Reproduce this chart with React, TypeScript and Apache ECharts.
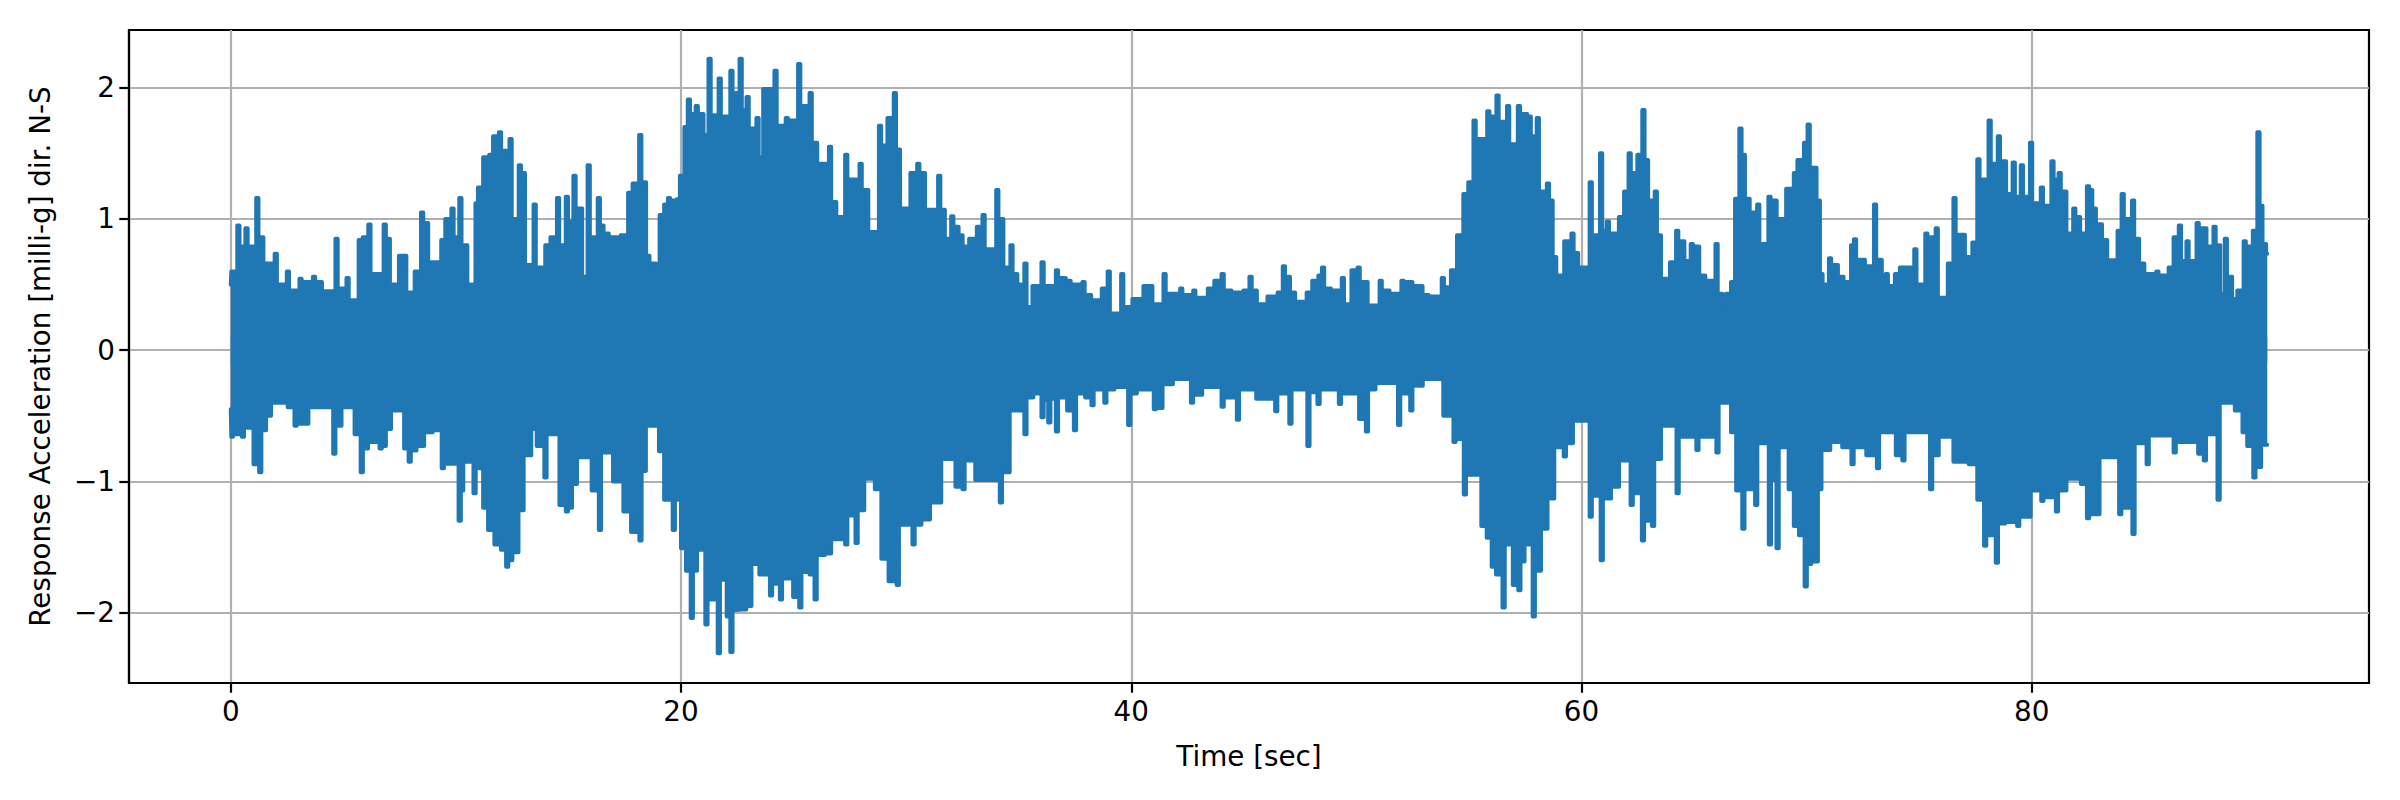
import { useEffect, useRef } from 'react';
import * as echarts from 'echarts';

const xTicks = [0, 20, 40, 60, 80];
const yTicks = [-2, -1, 0, 1, 2];

// upper edge of the trace, [time, milli-g]
const upperPeaks: [number, number][] = [
  [0, 0.5], [0.05, 0.6], [0.2, 0.6], [0.34, 0.95], [0.48, 0.79], [0.7, 0.93], [0.88, 0.79], [1.18, 1.16], [1.4, 0.86], [1.56, 0.66],
  [2.0, 0.735], [2.24, 0.5], [2.54, 0.6], [2.8, 0.455], [3.1, 0.545], [3.33, 0.52], [3.7, 0.56], [4.0, 0.52], [4.24, 0.45], [4.7, 0.85],
  [4.96, 0.47], [5.19, 0.55], [5.48, 0.38], [5.73, 0.84], [5.91, 0.86], [6.16, 0.957], [6.43, 0.58], [6.84, 0.957], [7.02, 0.85], [7.29, 0.5],
  [7.52, 0.72], [7.75, 0.72], [8.0, 0.44], [8.22, 0.6], [8.5, 1.05], [8.72, 0.97], [9.06, 0.67], [9.4, 0.84], [9.58, 1.0], [9.85, 1.08],
  [10.0, 0.86], [10.2, 1.16], [10.46, 0.8], [10.69, 0.5], [10.92, 1.12], [11.03, 1.24], [11.26, 1.47], [11.53, 1.49], [11.7, 1.63], [11.96, 1.66],
  [12.16, 1.52], [12.43, 1.61], [12.57, 1.0], [12.84, 1.41], [13.02, 1.35], [13.18, 0.65], [13.5, 1.11], [13.7, 0.63], [14.02, 0.8], [14.25, 0.86],
  [14.54, 1.16], [14.7, 0.8], [14.93, 1.17], [15.1, 0.98], [15.27, 1.33], [15.56, 1.08], [15.72, 0.56], [15.9, 1.41], [16.13, 0.86], [16.35, 1.16],
  [16.51, 0.95], [16.74, 0.89], [17.0, 0.86], [17.37, 0.875], [17.7, 1.2], [17.9, 1.27], [18.19, 1.64], [18.4, 1.28], [18.55, 0.72], [18.85, 0.66],
  [19.0, 0.48], [19.1, 1.03], [19.3, 1.11], [19.47, 1.16], [19.68, 1.14], [19.86, 1.15], [20.0, 1.33], [20.2, 1.7], [20.35, 1.91], [20.5, 1.8],
  [20.7, 1.86], [20.95, 1.8], [21.09, 1.64], [21.27, 2.22], [21.4, 1.79], [21.72, 2.07], [21.9, 1.78], [22.24, 2.13], [22.42, 1.96], [22.65, 2.22],
  [22.85, 1.83], [22.96, 1.93], [23.2, 1.69], [23.4, 1.77], [23.56, 1.47], [23.7, 1.99], [23.94, 1.99], [24.2, 2.13], [24.44, 1.71], [24.7, 1.77],
  [24.98, 1.75], [25.25, 2.18], [25.49, 1.86], [25.76, 1.96], [26.0, 1.58], [26.28, 1.42], [26.62, 1.55], [26.85, 1.13], [27.12, 1.015], [27.34, 1.49],
  [27.57, 1.3], [27.98, 1.42], [28.27, 1.22], [28.54, 0.9], [28.84, 1.71], [29.02, 1.56], [29.22, 1.77], [29.5, 1.96], [29.68, 1.53], [29.86, 1.08],
  [30.24, 1.35], [30.54, 1.42], [30.79, 1.35], [30.97, 1.07], [31.2, 1.07], [31.47, 1.33], [31.67, 1.07], [31.83, 0.85], [32.05, 1.02], [32.28, 0.94],
  [32.46, 0.875], [32.62, 0.79], [32.85, 0.85], [33.19, 0.94], [33.44, 1.03], [33.64, 0.77], [34.05, 1.22], [34.27, 1.0], [34.43, 0.63], [34.68, 0.8],
  [34.89, 0.58], [35.11, 0.5], [35.3, 0.66], [35.5, 0.33], [35.66, 0.49], [36.06, 0.67], [36.36, 0.49], [36.7, 0.61], [37.04, 0.55], [37.26, 0.53],
  [37.49, 0.5], [37.88, 0.52], [38.17, 0.42], [38.51, 0.38], [38.74, 0.47], [39.0, 0.6], [39.3, 0.28], [39.6, 0.58], [39.87, 0.33], [40.1, 0.39],
  [40.59, 0.49], [40.89, 0.49], [41.1, 0.35], [41.48, 0.58], [41.79, 0.43], [42.22, 0.47], [42.54, 0.42], [42.8, 0.455], [43.15, 0.4], [43.45, 0.47],
  [43.74, 0.53], [44.06, 0.58], [44.4, 0.455], [44.74, 0.44], [45.03, 0.455], [45.3, 0.56], [45.53, 0.455], [45.92, 0.35], [46.1, 0.41], [46.55, 0.44],
  [46.78, 0.64], [47.0, 0.56], [47.23, 0.44], [47.57, 0.37], [47.84, 0.44], [48.09, 0.53], [48.36, 0.57], [48.52, 0.63], [48.82, 0.47], [49.15, 0.455],
  [49.4, 0.55], [49.61, 0.35], [49.83, 0.61], [50.1, 0.63], [50.45, 0.52], [50.74, 0.34], [51.08, 0.53], [51.42, 0.455], [51.76, 0.43], [52.05, 0.53],
  [52.44, 0.52], [52.89, 0.49], [53.16, 0.42], [53.53, 0.41], [53.84, 0.55], [54.03, 0.48], [54.25, 0.61], [54.52, 0.875], [54.8, 1.19], [55.02, 1.28],
  [55.25, 1.75], [55.5, 1.61], [55.86, 1.82], [56.02, 1.78], [56.27, 1.94], [56.52, 1.74], [56.74, 1.86], [56.97, 1.57], [57.22, 1.86], [57.54, 1.8],
  [57.7, 1.78], [57.88, 1.63], [58.06, 1.77], [58.22, 1.21], [58.51, 1.27], [58.67, 1.14], [58.83, 0.71], [59.05, 0.57], [59.28, 0.83], [59.6, 0.89],
  [59.8, 0.74], [60.03, 0.63], [60.41, 1.28], [60.64, 0.875], [60.87, 1.5], [60.99, 0.91], [61.17, 0.98], [61.44, 0.89], [61.71, 1.015], [61.94, 1.21],
  [62.14, 1.5], [62.35, 1.35], [62.53, 1.49], [62.75, 1.83], [62.91, 1.45], [63.09, 1.14], [63.3, 1.21], [63.48, 0.875], [63.7, 0.545], [63.98, 0.67],
  [64.25, 0.91], [64.52, 0.83], [64.72, 0.68], [64.9, 0.81], [65.18, 0.79], [65.45, 0.57], [65.74, 0.53], [66.0, 0.81], [66.2, 0.43], [66.31, 0.32],
  [66.47, 0.43], [66.69, 0.52], [66.87, 1.155], [67.06, 1.69], [67.21, 1.49], [67.42, 1.155], [67.6, 1.05], [67.85, 1.11], [68.08, 0.81], [68.35, 1.17],
  [68.62, 1.14], [68.87, 1.0], [69.14, 1.23], [69.48, 1.35], [69.64, 1.45], [69.93, 1.58], [70.09, 1.72], [70.39, 1.39], [70.54, 1.14], [70.66, 0.58],
  [70.84, 0.5], [71.04, 0.7], [71.34, 0.65], [71.59, 0.56], [71.79, 0.52], [72.02, 0.8], [72.15, 0.845], [72.43, 0.69], [72.54, 0.69], [72.83, 0.64],
  [73.04, 1.11], [73.29, 0.69], [73.44, 0.34], [73.56, 0.58], [73.74, 0.49], [73.97, 0.58], [74.19, 0.63], [74.51, 0.63], [74.83, 0.77], [75.03, 0.5],
  [75.32, 0.89], [75.55, 0.86], [75.78, 0.93], [75.98, 0.4], [76.32, 0.66], [76.57, 1.16], [76.8, 0.88], [76.98, 0.88], [77.23, 0.71], [77.41, 0.82],
  [77.63, 1.455], [77.79, 1.3], [78.13, 1.75], [78.31, 1.42], [78.54, 1.63], [78.81, 1.44], [78.99, 1.19], [79.2, 1.43], [79.33, 1.17], [79.56, 1.41],
  [79.72, 1.17], [79.97, 1.58], [80.19, 1.12], [80.45, 1.24], [80.65, 1.1], [80.92, 1.44], [81.08, 1.3], [81.24, 1.35], [81.49, 1.21], [81.71, 0.89],
  [81.89, 1.08], [82.1, 1.015], [82.32, 0.89], [82.5, 1.25], [82.64, 1.22], [82.8, 1.08], [83.07, 0.96], [83.3, 0.84], [83.52, 0.685], [83.86, 0.91],
  [84.04, 1.19], [84.23, 1.0], [84.5, 1.14], [84.72, 0.85], [84.95, 0.66], [85.34, 0.58], [85.58, 0.6], [85.9, 0.57], [86.13, 0.63], [86.35, 0.86],
  [86.58, 0.95], [86.74, 0.68], [86.92, 0.83], [87.15, 0.68], [87.37, 0.97], [87.71, 0.93], [87.87, 0.79], [88.12, 0.94], [88.32, 0.8], [88.48, 0.43],
  [88.62, 0.85], [88.85, 0.56], [89.0, 0.39], [89.18, 0.455], [89.46, 0.83], [89.64, 0.79], [89.87, 0.91], [90.07, 1.66], [90.2, 1.1], [90.36, 0.81],
  [90.46, 0.735],
];

// lower edge of the trace
const lowerPeaks: [number, number][] = [
  [0, -0.45], [0.05, -0.66], [0.34, -0.64], [0.54, -0.66], [0.84, -0.59], [1.06, -0.87], [1.31, -0.93], [1.52, -0.61], [1.74, -0.5], [2.24, -0.4],
  [2.58, -0.435], [2.88, -0.575], [3.15, -0.56], [3.4, -0.56], [4.17, -0.435], [4.6, -0.79], [4.87, -0.575], [5.14, -0.435], [5.55, -0.64], [5.82, -0.93],
  [6.05, -0.75], [6.39, -0.7], [6.66, -0.75], [6.84, -0.73], [7.07, -0.6], [7.36, -0.46], [7.75, -0.75], [7.95, -0.85], [8.2, -0.765], [8.54, -0.73],
  [8.92, -0.625], [9.22, -0.61], [9.42, -0.9], [9.78, -0.865], [10.17, -1.3], [10.28, -1.07], [10.58, -0.85], [10.83, -1.09], [11.14, -0.9], [11.26, -1.2],
  [11.48, -1.37], [11.76, -1.48], [12.05, -1.52], [12.28, -1.65], [12.46, -1.6], [12.73, -1.54], [12.96, -1.22], [13.3, -0.8], [13.48, -0.6], [13.64, -0.73],
  [13.98, -0.97], [14.31, -0.64], [14.65, -1.18], [14.93, -1.23], [15.11, -1.2], [15.33, -1.02], [15.79, -0.815], [16.08, -1.07], [16.4, -1.37], [16.63, -0.78],
  [17.03, -1.0], [17.49, -1.23], [17.83, -1.385], [18.2, -1.45], [18.39, -0.92], [18.73, -0.575], [19.07, -0.77], [19.3, -1.14], [19.68, -1.37], [19.86, -1.14],
  [20.05, -1.51], [20.27, -1.68], [20.48, -2.04], [20.66, -1.68], [20.91, -1.52], [21.13, -2.09], [21.34, -1.9], [21.68, -2.31], [21.81, -1.75], [22.08, -2.03],
  [22.24, -2.3], [22.42, -1.98], [22.85, -1.975], [23.08, -1.95], [23.26, -1.63], [23.53, -1.71], [24.0, -1.87], [24.28, -1.78], [24.44, -1.9], [24.73, -1.74],
  [25.03, -1.88], [25.3, -1.96], [25.53, -1.69], [25.76, -1.71], [25.98, -1.9], [26.35, -1.56], [26.62, -1.55], [26.96, -1.44], [27.34, -1.48], [27.59, -1.26],
  [27.8, -1.47], [28.09, -1.22], [28.32, -0.98], [28.66, -1.06], [28.95, -1.59], [29.27, -1.76], [29.63, -1.79], [29.95, -1.33], [30.33, -1.48], [30.63, -1.33],
  [31.01, -1.29], [31.51, -1.16], [31.94, -0.83], [32.24, -1.04], [32.55, -1.06], [32.85, -0.84], [33.12, -0.99], [33.87, -0.99], [34.21, -1.16], [34.55, -0.93],
  [35.0, -0.46], [35.3, -0.64], [35.6, -0.36], [35.9, -0.33], [36.06, -0.51], [36.2, -0.38], [36.36, -0.55], [36.5, -0.37], [36.7, -0.62], [36.95, -0.36],
  [37.2, -0.46], [37.5, -0.61], [37.7, -0.33], [38.0, -0.36], [38.28, -0.42], [38.6, -0.3], [38.85, -0.4], [39.2, -0.3], [39.5, -0.28], [39.91, -0.57],
  [40.2, -0.33], [40.6, -0.3], [41.05, -0.45], [41.34, -0.44], [41.8, -0.26], [42.2, -0.22], [42.7, -0.4], [43.1, -0.34], [43.5, -0.28], [44.06, -0.43],
  [44.4, -0.36], [44.74, -0.53], [45.1, -0.3], [45.6, -0.37], [46.44, -0.466], [46.8, -0.33], [47.07, -0.56], [47.4, -0.3], [47.87, -0.73], [48.1, -0.32],
  [48.32, -0.41], [48.7, -0.3], [49.27, -0.41], [49.7, -0.33], [50.17, -0.525], [50.47, -0.62], [50.8, -0.3], [51.3, -0.25], [51.9, -0.57], [52.1, -0.33],
  [52.44, -0.46], [52.9, -0.27], [53.3, -0.22], [53.91, -0.5], [54.36, -0.7], [54.59, -0.676], [54.82, -1.1], [55.11, -0.95], [55.6, -1.34], [55.84, -1.43],
  [56.06, -1.65], [56.25, -1.71], [56.54, -1.96], [56.79, -1.48], [57.0, -1.79], [57.24, -1.83], [57.42, -1.61], [57.65, -1.48], [57.88, -2.03], [58.15, -1.68],
  [58.44, -1.36], [58.74, -1.13], [58.9, -0.74], [59.26, -0.81], [59.57, -0.71], [59.91, -0.537], [60.41, -1.27], [60.64, -1.11], [60.9, -1.6], [61.26, -1.13],
  [61.62, -1.04], [61.94, -0.84], [62.23, -1.18], [62.47, -1.09], [62.73, -1.45], [62.96, -1.3], [63.18, -1.34], [63.48, -0.83], [63.82, -0.575], [64.27, -1.09],
  [64.5, -0.66], [65.15, -0.76], [65.56, -0.66], [66.04, -0.78], [66.31, -0.4], [66.69, -0.625], [66.92, -1.07], [67.19, -1.36], [67.49, -1.06], [67.76, -1.18],
  [68.01, -0.71], [68.37, -1.48], [68.55, -0.99], [68.71, -1.51], [68.91, -0.74], [69.25, -1.06], [69.48, -1.34], [69.71, -1.41], [69.96, -1.8], [70.16, -1.63],
  [70.45, -1.61], [70.61, -1.06], [71.0, -0.76], [71.29, -0.7], [71.63, -0.74], [72.04, -0.87], [72.43, -0.74], [72.7, -0.8], [73.17, -0.9], [73.67, -0.625],
  [74.01, -0.8], [74.3, -0.84], [74.85, -0.625], [75.53, -1.06], [75.82, -0.8], [76.16, -0.66], [76.57, -0.85], [77.25, -0.87], [77.63, -1.14], [77.93, -1.49],
  [78.2, -1.41], [78.45, -1.62], [78.77, -1.32], [79.1, -1.31], [79.4, -1.34], [79.9, -1.27], [80.19, -1.07], [80.47, -1.15], [80.85, -1.12], [81.12, -1.23],
  [81.49, -1.07], [81.87, -0.98], [82.23, -1.02], [82.5, -1.28], [82.96, -1.25], [83.3, -0.815], [83.93, -1.25], [84.28, -1.2], [84.52, -1.4], [84.77, -0.71],
  [85.15, -0.87], [85.52, -0.65], [85.95, -0.65], [86.35, -0.78], [86.81, -0.7], [87.44, -0.79], [87.69, -0.84], [88.05, -0.64], [88.3, -1.14], [88.5, -0.4],
  [89.07, -0.46], [89.41, -0.625], [89.62, -0.73], [89.89, -0.97], [90.14, -0.89], [90.39, -0.72], [90.46, -0.72],
];

const fontFamily = "'DejaVu Sans'";
const traceColor = '#1f77b4';
const gridColor = '#b0b0b0';

// step shape: the read values stay as they are, the jump between two readings
// sits right next to the larger one so peaks come out as thin spikes
function toSpikes(points: [number, number][]) {
  const out: [number, number][] = [];
  points.forEach(([t, v], i) => {
    out.push([t, v]);
    const next = points[i + 1];
    if (!next) return;
    const gap = next[0] - t;
    const d = Math.min(0.05, gap / 2);
    const jump = Math.abs(v) >= Math.abs(next[1]) ? t + d : next[0] - d;
    out.push([jump, v], [jump, next[1]]);
  });
  return out;
}

export default function App() {
  const chartRef = useRef<HTMLDivElement>(null);

  useEffect(() => {
    if (!chartRef.current) return;
    const chart = echarts.init(chartRef.current, null, { renderer: 'svg' });

    const label = {
      color: '#000',
      fontFamily,
      fontSize: 27.8,
    };
    const tick = { lineStyle: { color: '#000', width: 2.2 }, length: 9.7 };
    const split = { show: true, lineStyle: { color: gridColor, width: 2.2 } };

    chart.setOption({
      animation: false,
      backgroundColor: '#fff',
      grid: {
        left: 129,
        right: 31,
        top: 30,
        bottom: 117,
        show: true,
        borderColor: '#000',
        borderWidth: 2.2,
      },
      xAxis: {
        type: 'value',
        min: -4.52,
        max: 94.98,
        name: 'Time [sec]',
        nameLocation: 'middle',
        nameGap: 59,
        nameTextStyle: label,
        axisLine: { show: true, onZero: false, lineStyle: { color: '#000', width: 2.2 } },
        axisTick: { show: true, customValues: xTicks, ...tick },
        axisLabel: { ...label, margin: 14, customValues: xTicks },
        splitLine: split,
      },
      yAxis: {
        type: 'value',
        min: -2.536,
        max: 2.44,
        name: 'Response Acceleration [milli-g] dir. N-S',
        nameLocation: 'middle',
        nameGap: 75,
        nameTextStyle: label,
        axisLine: { show: true, onZero: false, lineStyle: { color: '#000', width: 2.2 } },
        axisTick: { show: true, customValues: yTicks, ...tick },
        axisLabel: {
          ...label,
          margin: 14,
          customValues: yTicks,
          formatter: (v: number) => String(v).replace('-', '\u2212'),
        },
        splitLine: split,
      },
      series: [
        {
          type: 'line',
          name: 'upper',
          data: toSpikes(upperPeaks),
          symbol: 'none',
          lineStyle: { color: traceColor, width: 4, cap: 'round', join: 'round' },
          areaStyle: { color: traceColor, opacity: 1, origin: -0.1 },
        },
        {
          type: 'line',
          name: 'lower',
          data: toSpikes(lowerPeaks),
          symbol: 'none',
          lineStyle: { color: traceColor, width: 4, cap: 'round', join: 'round' },
          areaStyle: { color: traceColor, opacity: 1, origin: 0.1 },
        },
      ],
    });

    return () => {
      chart.dispose();
    };
  }, []);

  return <div ref={chartRef} style={{ position: 'fixed', left: 0, top: 0, width: 2400, height: 800 }} />;
}
